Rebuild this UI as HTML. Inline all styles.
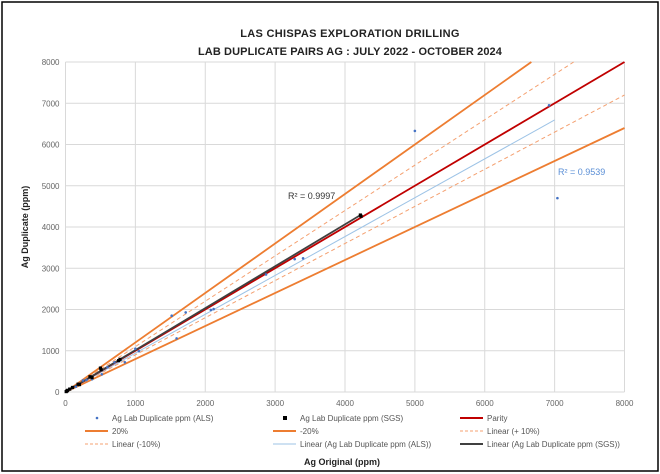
<!DOCTYPE html>
<html><head><meta charset="utf-8"><style>
body{margin:0;background:#fff;}
svg{display:block;font-family:"Liberation Sans",sans-serif;}
</style></head><body>
<svg id="c" width="660" height="474" viewBox="0 0 660 474">
<rect x="2" y="2" width="656" height="469" fill="#fff" stroke="#000" stroke-width="1.5"/>
<text x="350" y="37" text-anchor="middle" font-size="11" font-weight="bold" letter-spacing="0.3" fill="#222">LAS CHISPAS EXPLORATION DRILLING</text>
<text x="350" y="55" text-anchor="middle" font-size="11" font-weight="bold" letter-spacing="0.1" fill="#222">LAB DUPLICATE PAIRS AG : JULY 2022 - OCTOBER 2024</text>
<g id="grid"></g><g id="axes"></g><g id="lines"></g><g id="pts"></g>
<text x="288" y="199" font-size="9" fill="#333">R² = 0.9997</text>
<text x="558" y="175" font-size="9" fill="#5b8fd6">R² = 0.9539</text>
<text transform="translate(28,227) rotate(-90)" text-anchor="middle" font-size="9" font-weight="bold" fill="#222">Ag Duplicate (ppm)</text>
<text x="342" y="465" text-anchor="middle" font-size="9" font-weight="bold" fill="#222">Ag Original (ppm)</text>
<g id="legend" font-size="8" fill="#555"></g>
</svg>
<script>
const xTicks=[0,1000,2000,3000,4000,5000,6000,7000,8000];
const yTicks=[0,1000,2000,3000,4000,5000,6000,7000,8000];
const alsX=[5000,6920,7040,1520,1720,1590,2080,2120,3280,3400,2870,1000,1050,850,700,520,380,250,100,50,20,150,600,300,10,70];
const alsY=[6330,6950,4700,1850,1930,1300,1990,2010,3220,3240,2850,1050,990,720,720,430,310,280,100,60,20,130,600,290,10,80];
const sgsX=[4220,4230,500,510,780,760,350,380,180,200,60,30,10,100,20];
const sgsY=[4290,4260,580,540,790,760,370,350,190,180,70,40,10,110,25];
const alsSlope=0.942, alsFitMax=7000;
const sgsSlope=1.016, sgsFitMax=4220;
const X0=65.5,X1=624.5,Y0=392,Y1=62,MAX=8000;
const sx=v=>X0+(X1-X0)*v/MAX, sy=v=>Y0-(Y0-Y1)*v/MAX;
const NS="http://www.w3.org/2000/svg";
function mk(p,t,a){const e=document.createElementNS(NS,t);for(const k in a)e.setAttribute(k,a[k]);document.getElementById(p).appendChild(e);return e;}
xTicks.forEach(v=>{
 const l=mk('grid','line',{x1:sx(v),x2:sx(v),y1:Y1,y2:Y0,stroke:'#d9d9d9'});
 
 
 const t=mk('axes','text',{x:sx(v),y:Y0+14,'text-anchor':'middle','font-size':8,fill:'#666'});t.textContent=v;
 
 
});
yTicks.forEach(v=>{
 const l=mk('grid','line',{x1:X0,x2:X1,y1:sy(v),y2:sy(v),stroke:'#d9d9d9'});
 
 
 const t=mk('axes','text',{x:X0-6,y:sy(v)+3,'text-anchor':'end','font-size':8,fill:'#666'});t.textContent=v;
 
 
});
function clipLine(slope,xmax,name,st){
 let x2=Math.min(xmax,MAX/slope);
 const l=mk('lines','line',Object.assign({x1:sx(0),y1:sy(0),x2:sx(x2),y2:sy(slope*x2),fill:'none'},st));
 
 
}
clipLine(1.2,MAX,'plus-20-line',{stroke:'#ed7d31','stroke-width':1.8});
clipLine(0.8,MAX,'minus-20-line',{stroke:'#ed7d31','stroke-width':1.8});
clipLine(1.1,MAX,'plus-10-line',{stroke:'#f4a070','stroke-width':1,'stroke-dasharray':'4,3'});
clipLine(0.9,MAX,'minus-10-line',{stroke:'#f4a070','stroke-width':1,'stroke-dasharray':'4,3'});
clipLine(alsSlope,alsFitMax,'als-trendline',{stroke:'#9dc3e6','stroke-width':1});
clipLine(1,MAX,'parity-line',{stroke:'#c00000','stroke-width':1.8});
clipLine(sgsSlope,sgsFitMax,'sgs-trendline',{stroke:'#404040','stroke-width':1.8});
alsX.forEach((v,i)=>{const c=mk('pts','circle',{cx:sx(v),cy:sy(alsY[i]),r:1.3,fill:'#4472c4'});
 
 });
sgsX.forEach((v,i)=>{const c=mk('pts','rect',{x:sx(v)-1.6,y:sy(sgsY[i])-1.6,width:3.2,height:3.2,fill:'#000'});
 
 });
const leg=[
 ['legend-als','Ag Lab Duplicate ppm (ALS)',97,421,'dot'],
 ['legend-sgs','Ag Lab Duplicate ppm (SGS)',285,421,'sq'],
 ['legend-parity','Parity',472,421,{stroke:'#c00000','stroke-width':2}],
 ['legend-plus-20','20%',97,434,{stroke:'#ed7d31','stroke-width':2}],
 ['legend-minus-20','-20%',285,434,{stroke:'#ed7d31','stroke-width':2}],
 ['legend-plus-10','Linear (+ 10%)',472,434,{stroke:'#f4a070','stroke-width':1,'stroke-dasharray':'3,2'}],
 ['legend-minus-10','Linear (-10%)',97,447,{stroke:'#f4a070','stroke-width':1,'stroke-dasharray':'3,2'}],
 ['legend-als-trend','Linear (Ag Lab Duplicate ppm (ALS))',285,447,{stroke:'#9dc3e6','stroke-width':1}],
 ['legend-sgs-trend','Linear (Ag Lab Duplicate ppm (SGS))',472,447,{stroke:'#404040','stroke-width':2}]
];
leg.forEach(([n,txt,cx,y,s])=>{
 if(s==='dot'){const e=mk('legend','circle',{cx:cx,cy:y-3,r:1.3,fill:'#4472c4'});}
 else if(s==='sq'){const e=mk('legend','rect',{x:cx-2,y:y-5,width:4,height:4,fill:'#000'});}
 else{const e=mk('legend','line',Object.assign({x1:cx-12,x2:cx+11,y1:y-3,y2:y-3},s));}
 const t=mk('legend','text',{x:cx+15,y:y});t.textContent=txt;
 
 
});
</script>
</body></html>
